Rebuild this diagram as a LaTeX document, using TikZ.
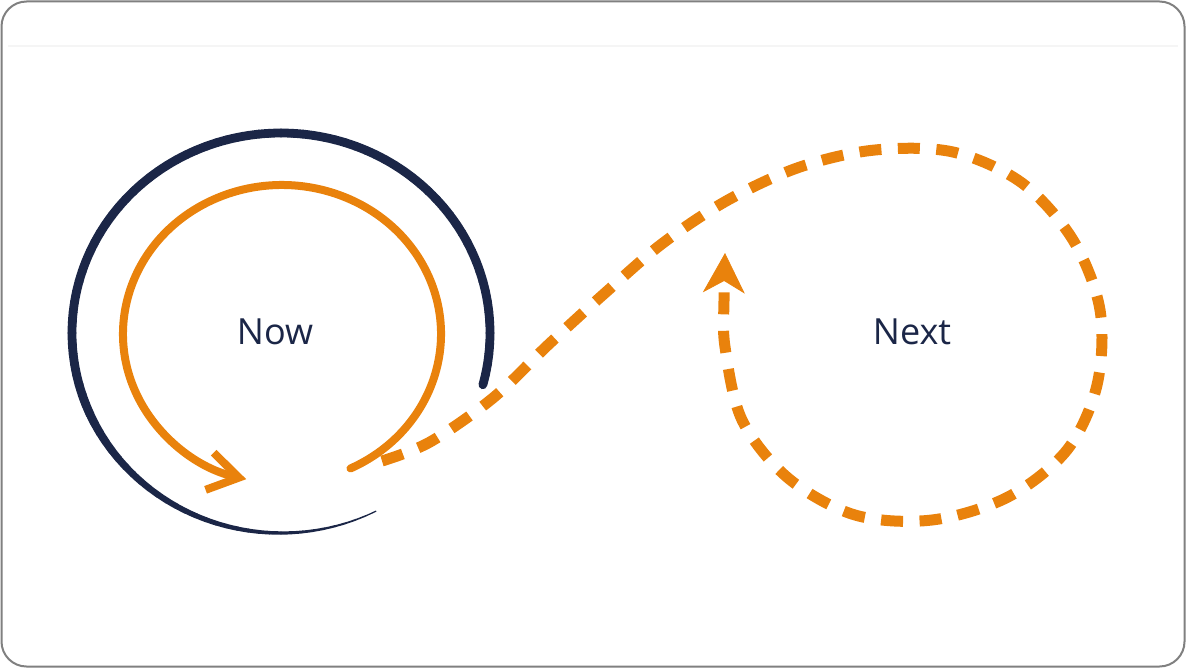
\documentclass[tikz,border=0pt]{standalone}
\usepackage{fontspec}
\setmainfont{Open Sans}
\usepackage{tikz}
\usetikzlibrary{
    calc,
    arrows.meta
}
\definecolor{navy}{HTML}{1B2647}
\definecolor{brush}{HTML}{E9820C}
\definecolor{framegray}{HTML}{808080}

\begin{document}
\begin{tikzpicture}[x=0.5pt, y=0.5pt, yscale=-1,
    word/.style={text=navy, font=\fontsize{18}{22}\selectfont},
    brushdash/.style={brush, line width=5.5pt, dash pattern=on 11pt off 8.25pt}]
  \useasboundingbox (0,0) rectangle (1186,668);
  \draw[framegray, line width=1pt, rounded corners=12.5pt] (1.5,1.5) rectangle (1184.5,666.5);
  \draw[black!4, line width=0.6pt] (8,46) -- (1178,46);

  \coordinate (O1) at (281,333);
  \coordinate (O2) at (282,334);

  % outer ring, thinning out at the bottom
  \foreach \a in {15,12,...,-294} {
    \pgfmathsetmacro{\w}{4.4-0.04*max(0,-200-\a)}
    \draw[navy, line width=\w pt, line cap=round]
      ($(O1)+(\a:209 and 200)$) arc[start angle=\a, end angle=\a-3, x radius=209, y radius=200];
  }

  % inner ring
  \draw[brush, line width=4pt, line cap=round, -{Straight Barb[length=15pt,width=19pt]}]
    ($(O2)+(64.5:159 and 149)$) arc[start angle=64.5, end angle=-257, x radius=159, y radius=149];

  % dashed loop round Next
  \draw[brushdash, -{Stealth[length=20pt,width=21pt,inset=6pt,line width=0.4pt]}]
    plot[smooth, tension=0.55] coordinates {(382,461) (430,442) (493,398) (548,345) (605,293)
      (663,243) (728,200) (800,167) (875,150) (953,152) (1022,183) (1073,240) (1100,310)
      (1097,385) (1067,450) (1008,497) (932,520) (855,515) (788,478) (742,420) (725,347)
      (724,300) (725,253)};

  \node[word] (now) at (275,332) {Now};
  \node[word] (next) at (912,332) {Next};
\end{tikzpicture}
\end{document}
